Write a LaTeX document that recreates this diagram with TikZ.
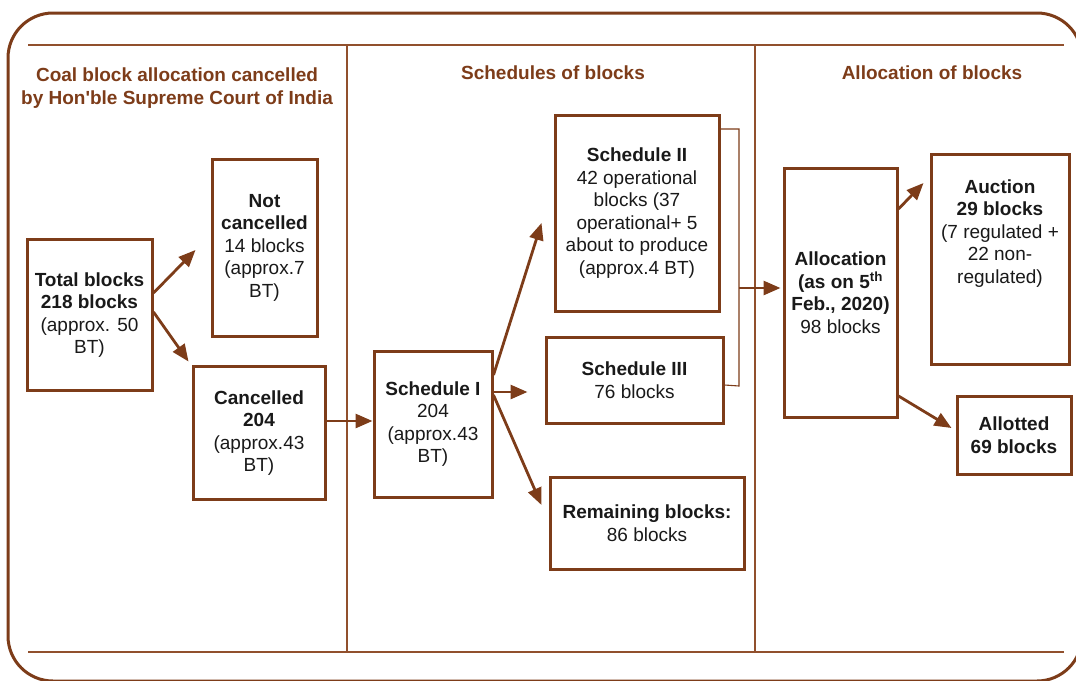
\documentclass[tikz,border=0pt]{standalone}
\usepackage{fontspec}
\setmainfont{Liberation Sans}
\usepackage{tikz}
\usetikzlibrary{arrows.meta, positioning, calc}
\definecolor{coalbrown}{RGB}{125, 60, 25}
\definecolor{rulebrown}{RGB}{145, 80, 45}
\definecolor{notedark}{RGB}{25, 25, 25}

\tikzset{
  blocktext/.style={align=center, inner sep=0pt, text=notedark,
    font=\fontsize{19}{22.5}\selectfont},
  blockbox/.style={blocktext, draw=coalbrown, line width=3pt, rectangle},
  heading/.style={align=center, inner sep=0pt, text=coalbrown,
    font=\fontsize{19}{23}\selectfont\bfseries},
  flow/.style={draw=coalbrown, line width=2.8pt, -{Triangle[length=17pt, width=14pt]}},
  frame/.style={draw=coalbrown, line width=3pt, rounded corners=45pt},
  divider/.style={draw=rulebrown, line width=1.3pt},
  bracket/.style={draw=coalbrown, line width=1.1pt}
}

\begin{document}
\begin{tikzpicture}[x=1pt, y=-1pt]
        \clip (0,0) rectangle (1076,680);
        
        % Cornice e colonne
        \draw[frame] (8,13) rectangle (1082,681);
        \draw[divider] (28,45) -- (1064,45);
        \draw[divider] (28,652) -- (1064,652);
        \draw[divider] (347,45) -- (347,652);
        \draw[divider] (755,45) -- (755,652);
        
        % Titoli
        \node[heading] (headcourt) at (177,88) {Coal block allocation cancelled\\by Hon\textquotesingle ble Supreme Court of India};
        \node[heading] (headsched) at (553,73) {Schedules of blocks};
        \node[heading] (headalloc) at (932,73) {Allocation of blocks};
        
        % Colonna 1
        \node[blockbox, minimum width=125pt, minimum height=151pt] (total) at (89.5,315)
            {\textbf{Total blocks}\\\textbf{218 blocks}\\(approx. 50\\BT)};
        \node[blockbox, minimum width=105pt, minimum height=177pt] (notcanc) at (264.5,247.5)
            {\textbf{Not}\\\textbf{cancelled}\\14 blocks\\(approx.7\\BT)};
        \node[blockbox, minimum width=132pt, minimum height=133pt] (canc) at (259,433)
            {\textbf{Cancelled}\\\textbf{204}\\(approx.43\\BT)};
        
        % Colonna 2
        \node[blockbox, minimum width=118pt, minimum height=146pt] (schone) at (433,424)
            {\textbf{Schedule I}\\204\\(approx.43\\BT)};
        \node[blockbox, minimum width=164pt, minimum height=196pt] (schtwo) at (637,213)
            {\textbf{Schedule II}\\42 operational\\blocks (37\\operational+ 5\\about to produce\\(approx.4 BT)};
        \node[blockbox, minimum width=177pt, minimum height=86pt] (schthree) at (634.5,380)
            {\textbf{Schedule III}\\76 blocks};
        \node[blockbox, minimum width=194pt, minimum height=92pt] (remain) at (647,523)
            {\textbf{Remaining blocks:}\\86 blocks};
        
        % Colonna 3
        \node[blockbox, minimum width=113pt, minimum height=249pt] (alloc) at (840.5,292.5)
            {\textbf{Allocation}\\\textbf{(as on 5\textsuperscript{th}}\\\textbf{Feb., 2020)}\\98 blocks};
        \node[blockbox, minimum width=138pt, minimum height=210pt,
            label={[blocktext, anchor=north, yshift=-27pt]north:{\textbf{Auction}\\\textbf{29 blocks}\\(7 regulated +\\22 non-\\regulated)}}] (auction) at (1000,259) {};
        \node[blockbox, minimum width=114pt, minimum height=78pt] (allotted) at (1014,435)
            {\textbf{Allotted}\\\textbf{69 blocks}};
        
        % Parentesi Schedule II + III
        \coordinate (brtop) at (739,129);
        \coordinate (brbot) at (739,386);
        \coordinate (brk) at (739,288);
        \draw[bracket] (schtwo.east |- brtop) -- (brtop) -- (brbot) -- ([yshift=-5pt]schthree.east);
        
        % Frecce
        \draw[flow] ([yshift=22pt]total.east) -- ([shift={(-15pt,-2.5pt)}]notcanc.west);
        \draw[flow] ([yshift=3pt]total.east) -- ([shift={(-3pt,3.5pt)}]canc.north west);
        \draw[flow] ([yshift=12pt]canc.east) -- ([yshift=3pt]schone.west);
        \draw[flow] ([yshift=49pt]schone.east) -- ([shift={(-12pt,-10pt)}]schtwo.west);
        \draw[flow] ([yshift=32pt]schone.east) -- ([shift={(-17pt,-12pt)}]schthree.west);
        \draw[flow] ([yshift=29pt]schone.east) -- ([shift={(-7pt,18pt)}]remain.west);
        \draw[flow] (brk) -- ([shift={(-2pt,4.5pt)}]alloc.west);
        \draw[flow] ([yshift=83.5pt]alloc.east) -- ([shift={(-6pt,76pt)}]auction.west);
        \draw[flow] ([yshift=-103.5pt]alloc.east) -- ([shift={(-4pt,7pt)}]allotted.west);
    \end{tikzpicture}
\end{document}
